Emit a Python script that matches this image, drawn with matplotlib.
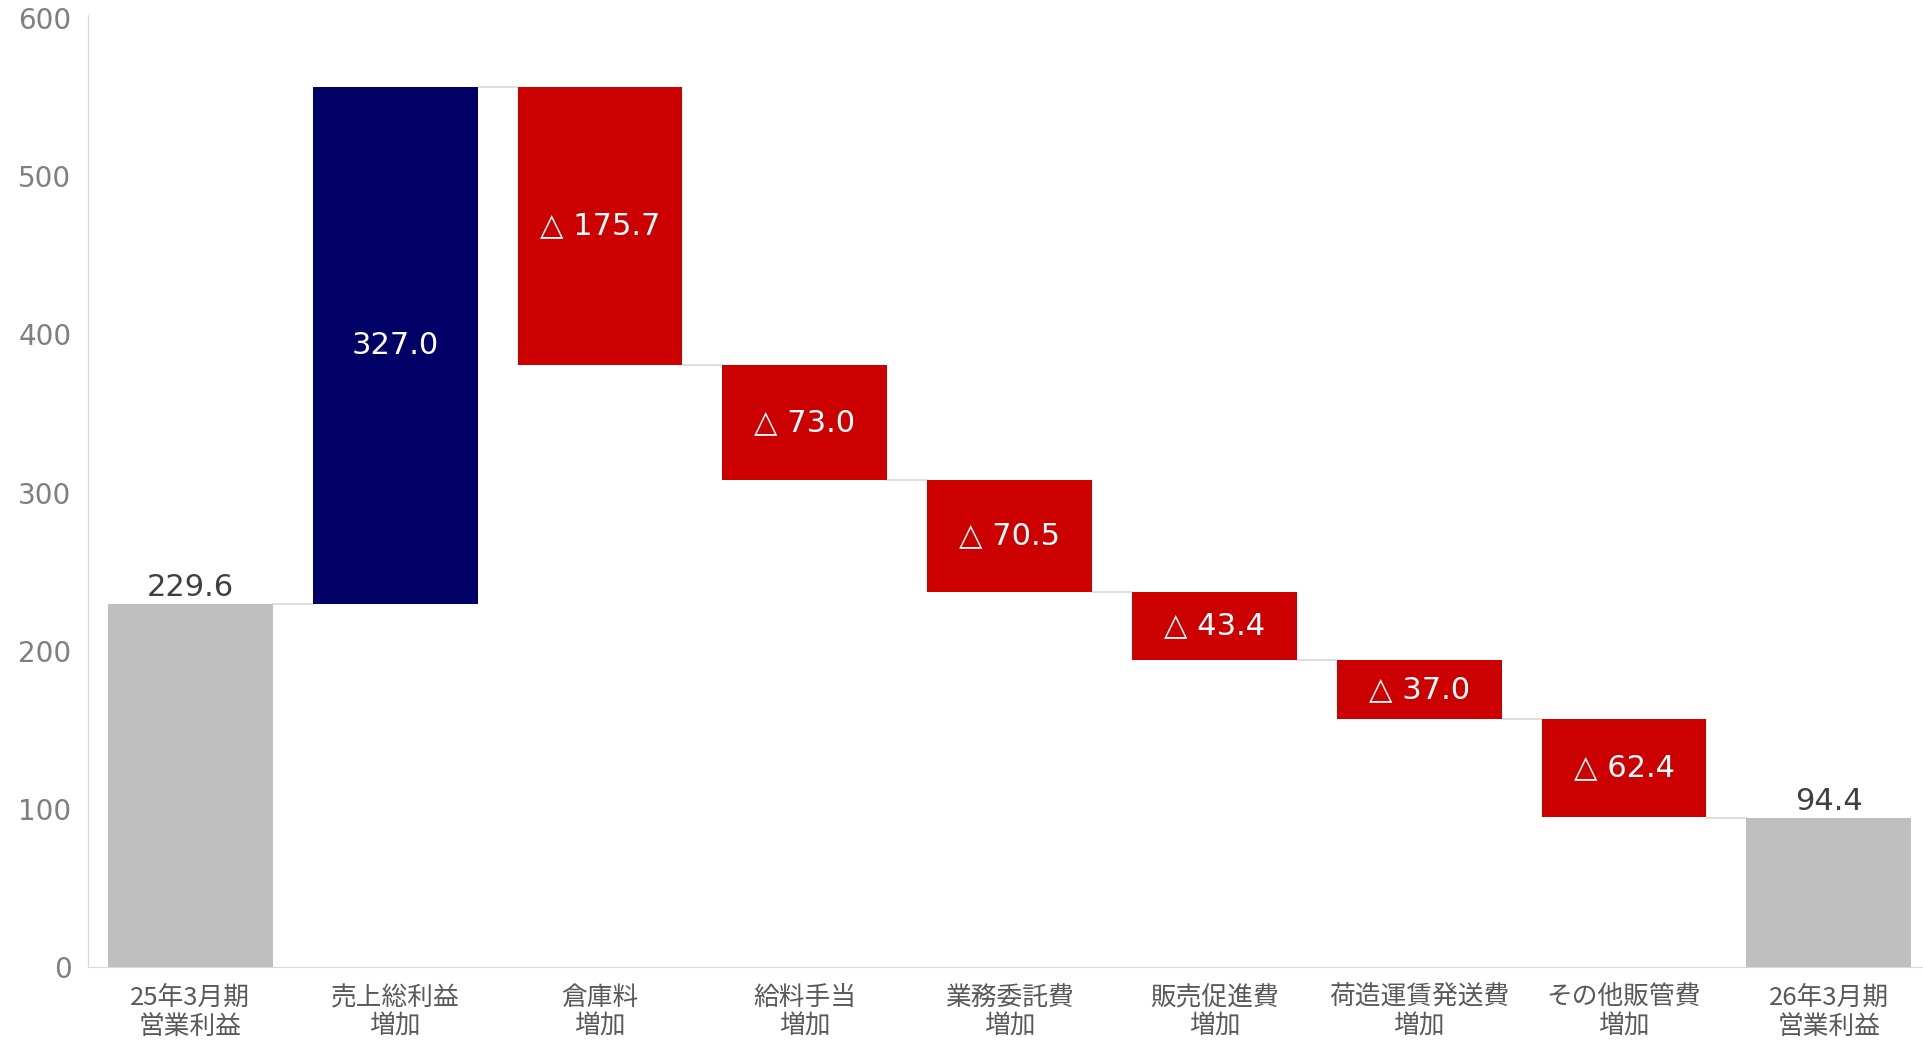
import matplotlib.pyplot as plt

plt.rcParams['font.family'] = ['Noto Sans CJK JP', 'DejaVu Sans']
NUM_FONT = ['DejaVu Sans', 'Noto Sans CJK JP']

# データ
categories = ['25年3月期\n営業利益', '売上総利益\n増加', '倉庫料\n増加', '給料手当\n増加',
              '業務委託費\n増加', '販売促進費\n増加', '荷造運賃発送費\n増加', 'その他販管費\n増加',
              '26年3月期\n営業利益']
start_value = 229.6
changes = [327.0, -175.7, -73.0, -70.5, -43.4, -37.0, -62.4]
end_value = 94.4

GRAY = '#bfbfbf'
NAVY = '#000066'
RED = '#cc0000'

fig = plt.figure(figsize=(19.23, 10.44), dpi=100)
ax = fig.add_axes([0.0458, 0.0738, 0.9542, 0.9118])

width = 0.805
bottoms = [0]
heights = [start_value]
colors = [GRAY]
tops = [start_value]
level = start_value
for c in changes:
    new = level + c
    bottoms.append(min(level, new))
    heights.append(abs(c))
    colors.append(NAVY if c > 0 else RED)
    tops.append(new)
    level = new
bottoms.append(0)
heights.append(end_value)
colors.append(GRAY)
tops.append(end_value)

x = list(range(len(categories)))
ax.bar(x, heights, bottom=bottoms, width=width, color=colors, zorder=2)

# 接続線
for i in range(len(x) - 1):
    lv = tops[i] if i < len(x) - 2 else end_value
    ax.plot([x[i] + width / 2, x[i + 1] - width / 2], [lv, lv],
            color='#d9d9d9', lw=1.2, zorder=1)

# ラベル
ax.text(x[0], start_value + 1, f'{start_value:.1f}', ha='center', va='bottom',
        fontsize=22, color='#404040', family=NUM_FONT)
ax.text(x[-1], end_value + 1, f'{end_value:.1f}', ha='center', va='bottom',
        fontsize=22, color='#404040', family=NUM_FONT)
for i, c in enumerate(changes, start=1):
    label = f'{c:.1f}' if c > 0 else f'△ {abs(c):.1f}'
    ax.text(x[i], bottoms[i] + heights[i] / 2, label, ha='center', va='center',
            fontsize=22, color='white', family=NUM_FONT)

ax.set_xlim(-0.5, 8.46)
ax.set_ylim(0, 602)
ax.set_yticks(range(0, 601, 100))
ax.set_xticks(x)
ax.set_xticklabels(categories, fontsize=18.5, color='#595959', linespacing=1.15,
                   family=['Noto Sans CJK JP', 'DejaVu Sans'])
for lab in ax.get_yticklabels():
    lab.set_family(NUM_FONT)
ax.tick_params(axis='y', labelsize=20, labelcolor='#7f7f7f', length=0, pad=12)
ax.tick_params(axis='x', length=0, pad=13)

for s in ['top', 'right']:
    ax.spines[s].set_visible(False)
ax.spines['left'].set_color('#d9d9d9')
ax.spines['bottom'].set_color('#d9d9d9')

fig.savefig('out.png', dpi=100)
